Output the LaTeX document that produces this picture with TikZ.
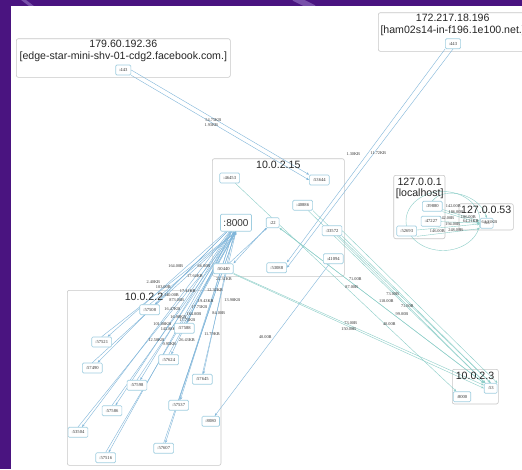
\documentclass[tikz,border=0pt]{standalone}
\usepackage{fontspec}
\setmainfont{Liberation Serif}
\newfontfamily\sansf{Liberation Sans}
\usetikzlibrary{arrows.meta,backgrounds}

\definecolor{framebg}{RGB}{74,20,128}
\definecolor{streakc}{RGB}{120,80,170}
\definecolor{portc}{RGB}{160,206,224}
\definecolor{fanc}{RGB}{128,182,218}
\definecolor{dnsc}{RGB}{140,206,200}

\tikzset{
  title/.style={font=\sansf\fontsize{10.6}{12}\selectfont, inner sep=0pt, anchor=base, text=black!85},
  port/.style={draw=portc, fill=white, rounded corners=1.2pt, line width=0.65pt,
    font=\fontsize{4.6}{5}\selectfont, text=black!80, inner xsep=3.5pt, inner ysep=0pt, minimum height=10pt},
  bigport/.style={port, font=\sansf\fontsize{10}{11}\selectfont, minimum height=17pt, inner xsep=3pt},
  lbl/.style={font=\fontsize{4.3}{5}\selectfont, inner sep=0pt, text=black!80},
  cluster/.style={draw=black!22, line width=0.6pt, rounded corners=2pt},
  tip/.style={-{Stealth[length=3pt,width=2.2pt]}},
  fan/.style={draw=fanc, line width=0.4pt, tip},
  dnsline/.style={draw=dnsc, line width=0.4pt, tip},
}

\begin{document}
\begin{tikzpicture}[x=1pt,y=-1pt]
\useasboundingbox (0,0) rectangle (522,469);

% ---- edge labels (set first so titles print over them) ----
\foreach \px/\py/\txt in {
  213.3/119.7/54.75KB, 211.3/125.3/1.93KB, 353.3/154/1.30KB, 378.3/153.3/11.72KB,
  175.7/265.7/164.00B, 204/266.3/66.00B, 195/275.7/17.64KB, 224/279.3/22.31KB,
  153.3/281.7/2.40KB, 163.3/287/103.00B, 187.7/291/17.41KB, 215/290.3/12.31KB,
  232.3/299.7/13.98KB, 171.5/295.3/140.00B, 176.7/300.3/873.00B, 205.7/301.3/19.43KB,
  172.3/309/16.47KB, 199.3/307.3/17.75KB, 218.7/312.7/84.00B, 194/314/164.00B,
  178.3/316.7/16.98KB, 187.3/320.3/17.75KB, 162.3/324/101.08KB, 169.7/329/145.88KB,
  212/334.3/11.79KB, 156.3/340/12.58KB, 169.3/343.7/9.95KB, 187/340.3/26.43KB,
  355.3/279.3/71.00B, 351.7/287.3/87.00B, 392.7/293.7/73.00B, 386.3/301.3/118.00B,
  407.3/306/71.00B, 402/314.3/99.00B, 389.3/324.3/40.00B, 350.7/323.3/73.00B,
  348.7/329.3/150.00B, 265.3/336.7/40.00B,
  453.3/206/142.00B, 456/212.3/186.00B, 446.7/218.3/142.00B, 468.3/217/186.00B,
  470.7/221.3/64.21KB, 452.7/224.2/194.00B, 437.3/231/146.00B,
  455.7/229.9/248.00B}
  \node[lbl] at (\px,\py) {\txt};

% ---- cluster titles ----
\node[title] (tfb1) at (123.3,47.8) {179.60.192.36};
\node[title] (tfb2) at (123.3,59.3) {[edge-star-mini-shv-01-cdg2.facebook.com.]};
\node[title] (tgg1) at (452.7,21.7) {172.217.18.196};
\node[title] (tgg2) at (452.7,33.2) {[ham02s14-in-f196.1e100.net.]};
\node[title] (tg15) at (278.3,168.3) {10.0.2.15};
\node[title] (tlh1) at (419.7,185) {127.0.0.1};
\node[title] (tlh2) at (419.7,196.3) {[localhost]};
\node[title] (tlh53) at (486.2,213.3) {127.0.0.53};
\node[title] (tg2) at (144,300.7) {10.0.2.2};
\node[title] (tg3) at (475,379.3) {10.0.2.3};

% ---- ports ----
\node[port] (fb443) at (123.3,70) {:443};
\node[port] (gg443) at (453,43.7) {:443};

\node[port] (s46453) at (229.7,178) {:46453};
\node[port] (s53644) at (319.3,180) {:53644};
\node[port] (s40886) at (302.7,205.3) {:40886};
\node[bigport] (s8000) at (236,222.7) {:8000};
\node[port] (s22) at (272.7,222.7) {:22};
\node[port] (s33572) at (332,230.7) {:33572};
\node[port] (s41094) at (333.3,258.7) {:41094};
\node[port] (s53088) at (276.7,267.7) {:53088};
\node[port] (s50440) at (223.3,268.7) {:50440};

\node[port] (h57508) at (149.7,309.7) {:57508};
\node[port] (h57521) at (101.7,342) {:57521};
\node[port] (h57490) at (92.3,368) {:57490};
\node[port] (h57588) at (184.3,328.3) {:57588};
\node[port] (h57624) at (168.7,359.7) {:57624};
\node[port] (h57645) at (202.3,379.3) {:57645};
\node[port] (h57598) at (137,385.3) {:57598};
\node[port] (h57586) at (112,410.7) {:57586};
\node[port] (h57537) at (178.7,405.3) {:57537};
\node[port] (h8080) at (210.7,421.3) {:8080};
\node[port] (h53504) at (78,432.3) {:53504};
\node[port] (h57607) at (163.7,448.3) {:57607};
\node[port] (h57516) at (105.7,457.7) {:57516};

\node[port] (d53) at (490.7,388.3) {:53};
\node[port] (d8000) at (462,396.7) {:8000};

\node[port] (l39880) at (432.3,206.3) {:39880};
\node[port] (l47227) at (431,221.3) {:47227};
\node[port] (l52693) at (406.7,231) {:52693};
\node[port] (m53) at (486.7,223.3) {:53};
\node[lbl] (m53lbl) at (489.5,221.8) {64.21KB};

% ---- frame, clusters and connections underneath ----
\begin{scope}[on background layer]
  \fill[framebg] (0,0) rectangle (522,469);
  \draw[streakc, line width=3pt] (21,-2) -- (34,8);
  \draw[streakc, line width=6pt] (294,-2) -- (314,8);
  \fill[white] (11,6) rectangle (522,469);

  \draw[cluster] (16.3,38.7) rectangle (230.3,77.3);
  \draw[cluster] (378.3,12.7) rectangle (527,51.3);
  \draw[cluster] (212.3,158.7) rectangle (344.3,276.3);
  \draw[cluster] (393.7,175.3) rectangle (445,238.7);
  \draw[cluster] (459,203.7) rectangle (513.3,230);
  \draw[cluster] (67.3,290.3) rectangle (221,465.3);
  \draw[cluster] (452.3,369.3) rectangle (498.3,404);

  % outside peers
  \draw[fan] (fb443.east) -- (s53644.north west);
  \draw[fan] (fb443.south east) -- (s53644.west);
  \draw[fan] (gg443.south west) -- (s53088.north east);
  \draw[fan] (gg443.south) -- (s53088.east);

  % :8000 to the 10.0.2.2 ports
  \foreach \t in {h57508,h57521,h57490,h57588,h57624,h57645,h57598,h57586,h57537,h53504,h57607,h57516}{
    \draw[fan] (s8000) -- (\t);
    \draw[fan] (\t.north) -- (s8000.south);
  }
  \draw[fan] (s50440) -- (s22);
  \draw[fan] (s22.south west) -- (s50440.north east);
  \draw[fan] (s41094) -- (h8080);

  % resolver traffic
  \draw[dnsline] (s46453) -- (d8000);
  \draw[dnsline] (s22) -- (d53);
  \draw[dnsline] (d53.north west) -- (s22.south east);
  \draw[dnsline] (s33572) -- (d53);
  \draw[dnsline] (s33572.south east) -- (d53.north);
  \draw[dnsline] (s33572.east) -- (d53.north east);
  \draw[dnsline] (s40886) -- (d53);
  \draw[dnsline] (s40886.south east) -- (d53.north);
  \draw[dnsline] (s50440) -- (d53);
  \draw[dnsline] (s50440.south east) -- (d53.west);

  % loopback
  \draw[dnsc, line width=0.4pt] (443,221) ellipse [x radius=37, y radius=29.5];
  \draw[dnsline] (l39880.north) .. controls (445,185) and (480,195) .. (m53.north);
  \draw[dnsline] (l39880) -- (m53);
  \draw[dnsline] (l39880.south east) -- (m53.west);
  \draw[dnsline] (l47227) -- (m53);
  \draw[dnsline] (l52693) -- (m53);
  \draw[dnsline] (l52693.south east) -- (m53.south west);
\end{scope}
\end{tikzpicture}
\end{document}
